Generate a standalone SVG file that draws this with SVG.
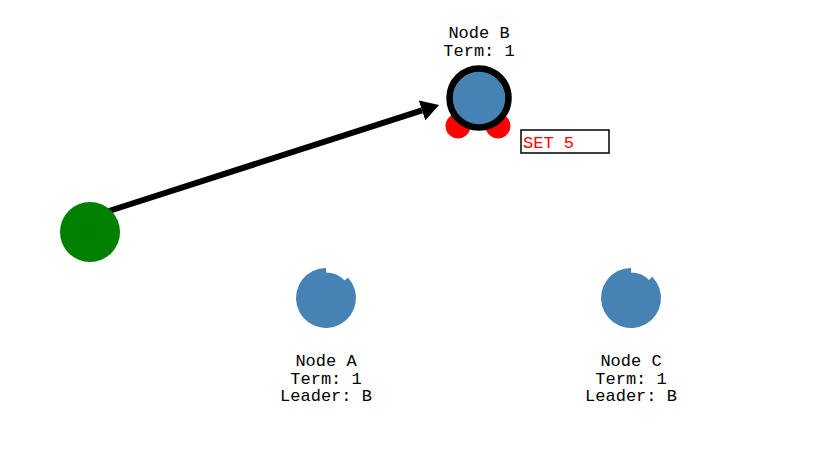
<svg xmlns="http://www.w3.org/2000/svg" width="830" height="466" viewBox="0 0 830 466">
<style>
.lbl{font-family:"Liberation Mono","Courier New",monospace;font-size:17px;fill:#000;text-anchor:middle}
.node{fill:#4682b4}
.conn{stroke:#000;stroke-width:6;fill:none}
</style>
<defs>
<marker id="ah" markerUnits="userSpaceOnUse" viewBox="0 0 18 21" refX="0" refY="10.5" markerWidth="18" markerHeight="21" orient="auto">
<path d="M0,0 L18,10.5 L0,21 z" fill="#000"/>
</marker>
</defs>
<rect width="830" height="466" fill="#fff"/>
<g id="connectors">
<line class="conn" x1="109" y1="211" x2="422" y2="110.4" marker-end="url(#ah)"/>
</g>
<g id="client">
<circle cx="90" cy="232" r="30" fill="#008000"/>
</g>
<g id="nodeB">
<circle cx="458" cy="126" r="12.5" fill="#ff0000"/>
<circle cx="498" cy="126" r="12.5" fill="#ff0000"/>
<circle class="node" cx="479" cy="98" r="29.5" stroke="#000" stroke-width="6.5"/>
<text class="lbl" x="479" y="38">Node B</text>
<text class="lbl" x="479" y="55.5">Term: 1</text>
<rect x="521" y="130" width="88" height="23" fill="#fff" stroke="#000" stroke-width="1.5"/>
<text x="523" y="148" font-family="Liberation Mono, Courier New, monospace" font-size="17" fill="#ff0000">SET 5</text>
</g>
<g id="nodeA">
<path class="node" d="M347.94,277.54 A30,30 0 1 1 326,268 L326,272.5 A25.5,25.5 0 0 1 344.65,280.61 Z"/>
<text class="lbl" x="326" y="366">Node A</text>
<text class="lbl" x="326" y="383.5">Term: 1</text>
<text class="lbl" x="326" y="401">Leader: B</text>
</g>
<g id="nodeC">
<path class="node" d="M652.21,276.79 A30,30 0 1 1 631,268 L631,272.5 A25.5,25.5 0 0 1 649.03,279.97 Z"/>
<text class="lbl" x="631" y="366">Node C</text>
<text class="lbl" x="631" y="383.5">Term: 1</text>
<text class="lbl" x="631" y="401">Leader: B</text>
</g>
</svg>
